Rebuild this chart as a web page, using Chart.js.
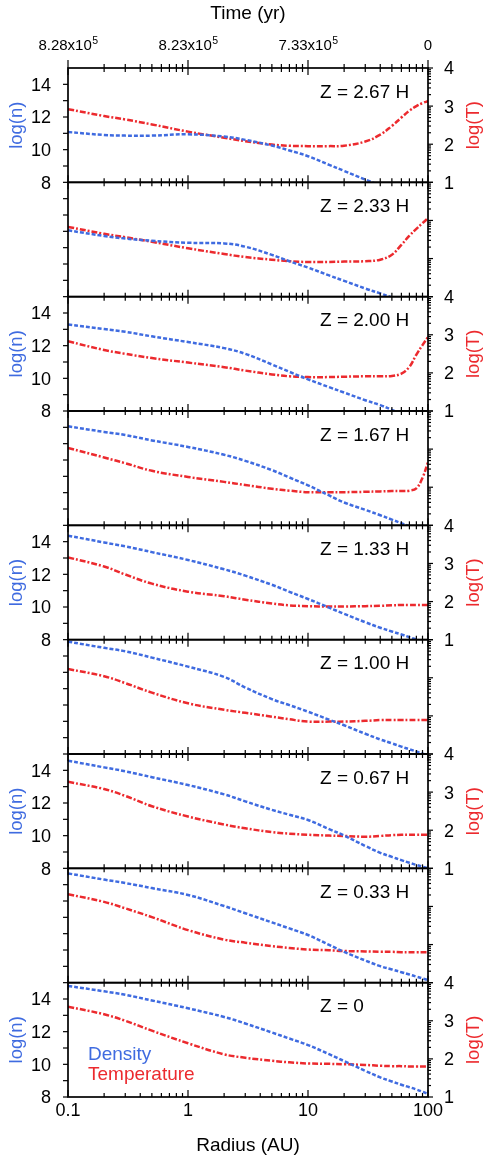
<!DOCTYPE html>
<html>
<head>
<meta charset="utf-8">
<script src="https://cdn.jsdelivr.net/npm/chart.js@4.4.1/dist/chart.umd.min.js"></script>
<style>
  html, body { margin: 0; padding: 0; background: #ffffff; }
  #wrap { position: relative; width: 491px; height: 1162px; overflow: hidden; }
  #wrap canvas { position: absolute; left: 0; top: 0; }
</style>
</head>
<body>
<div id="wrap"></div>
<script>
// ---------------- DATA ----------------
const radius = [0.1, 0.2, 0.3, 0.5, 1, 2, 3, 5, 7, 10, 15, 20, 30, 40, 50, 60, 70, 80, 90, 100];

const zLabels = ['Z = 2.67 H', 'Z = 2.33 H', 'Z = 2.00 H', 'Z = 1.67 H', 'Z = 1.33 H',
                 'Z = 1.00 H', 'Z = 0.67 H', 'Z = 0.33 H', 'Z = 0'];

// log(n) density
const densityZ267 = [11.08, 10.9, 10.86, 10.86, 10.94, 10.8, 10.6, 10.25, 9.95, 9.6, 9.07, 8.7, 8.17, 7.8, 7.5, 7.27, 7.07, 6.9, 6.75, 6.6];
const densityZ233 = [12.06, 11.72, 11.56, 11.42, 11.3, 11.26, 11.06, 10.56, 10.17, 9.78, 9.3, 8.97, 8.5, 8.2, 7.95, 7.72, 7.54, 7.38, 7.25, 7.12];
const densityZ200 = [13.29, 13.02, 12.85, 12.57, 12.22, 11.85, 11.5, 10.85, 10.4, 9.94, 9.46, 9.13, 8.66, 8.36, 8.07, 7.85, 7.66, 7.5, 7.35, 7.22];
const densityZ167 = [14.06, 13.72, 13.53, 13.2, 12.8, 12.32, 11.95, 11.38, 10.93, 10.45, 9.83, 9.4, 8.95, 8.62, 8.35, 8.13, 7.94, 7.78, 7.64, 7.52];
const densityZ133 = [14.37, 13.95, 13.71, 13.36, 12.88, 12.31, 11.92, 11.36, 10.93, 10.49, 9.96, 9.58, 9.07, 8.73, 8.5, 8.32, 8.15, 8.01, 7.9, 7.78];
const densityZ100 = [14.88, 14.5, 14.29, 13.9, 13.35, 12.72, 12.07, 11.36, 10.99, 10.59, 10.1, 9.76, 9.24, 8.89, 8.65, 8.45, 8.29, 8.15, 8.02, 7.91];
const densityZ067 = [14.59, 14.18, 13.94, 13.58, 13.1, 12.53, 12.1, 11.58, 11.28, 10.96, 10.4, 10.01, 9.37, 8.95, 8.7, 8.5, 8.34, 8.21, 8.1, 8.0];
const densityZ033 = [14.69, 14.31, 14.1, 13.79, 13.37, 12.69, 12.25, 11.69, 11.32, 10.92, 10.31, 9.88, 9.36, 9.01, 8.81, 8.64, 8.5, 8.37, 8.26, 8.16];
const densityZ000 = [14.8, 14.47, 14.26, 13.91, 13.43, 12.9, 12.5, 11.95, 11.58, 11.18, 10.62, 10.2, 9.6, 9.2, 8.95, 8.75, 8.6, 8.46, 8.32, 8.18];

// log(T) temperature
const temperatureZ267 = [2.92, 2.74, 2.65, 2.52, 2.33, 2.17, 2.08, 1.99, 1.96, 1.95, 1.95, 1.96, 2.07, 2.25, 2.48, 2.7, 2.88, 3.0, 3.08, 3.13];
const temperatureZ233 = [2.83, 2.65, 2.56, 2.44, 2.27, 2.12, 2.04, 1.97, 1.93, 1.91, 1.91, 1.92, 1.93, 1.97, 2.1, 2.36, 2.6, 2.78, 2.93, 3.06];
const temperatureZ200 = [2.83, 2.6, 2.5, 2.39, 2.27, 2.15, 2.06, 1.96, 1.91, 1.89, 1.89, 1.9, 1.91, 1.91, 1.92, 1.98, 2.16, 2.48, 2.73, 2.94];
const temperatureZ167 = [3.03, 2.78, 2.63, 2.43, 2.27, 2.14, 2.06, 1.96, 1.91, 1.87, 1.87, 1.87, 1.88, 1.89, 1.9, 1.9, 1.91, 1.97, 2.25, 2.66];
const temperatureZ133 = [3.16, 2.92, 2.71, 2.47, 2.26, 2.14, 2.05, 1.95, 1.9, 1.88, 1.87, 1.87, 1.88, 1.89, 1.9, 1.91, 1.91, 1.91, 1.91, 1.91];
const temperatureZ100 = [3.23, 3.04, 2.86, 2.61, 2.33, 2.16, 2.08, 1.98, 1.91, 1.85, 1.85, 1.85, 1.87, 1.89, 1.89, 1.89, 1.89, 1.89, 1.89, 1.89];
const temperatureZ067 = [3.27, 3.08, 2.9, 2.63, 2.36, 2.15, 2.05, 1.95, 1.91, 1.88, 1.86, 1.85, 1.83, 1.85, 1.87, 1.88, 1.88, 1.88, 1.88, 1.88];
const temperatureZ033 = [3.32, 3.12, 2.95, 2.72, 2.38, 2.13, 2.05, 1.96, 1.91, 1.87, 1.85, 1.83, 1.82, 1.81, 1.81, 1.8, 1.8, 1.8, 1.8, 1.8];
const temperatureZ000 = [3.37, 3.17, 3.0, 2.74, 2.41, 2.12, 2.03, 1.95, 1.91, 1.88, 1.87, 1.86, 1.84, 1.82, 1.81, 1.81, 1.8, 1.8, 1.8, 1.8];

const densitySeries = [densityZ267, densityZ233, densityZ200, densityZ167, densityZ133,
                       densityZ100, densityZ067, densityZ033, densityZ000];
const temperatureSeries = [temperatureZ267, temperatureZ233, temperatureZ200, temperatureZ167, temperatureZ133,
                           temperatureZ100, temperatureZ067, temperatureZ033, temperatureZ000];

// axis ticks / labels
const densityRange = [8, 15];
const densityTickLabels = [8, 10, 12, 14];
const temperatureRange = [1, 4];
const temperatureTickLabels = [1, 2, 3, 4];
const radiusRange = [0.1, 100];
const radiusTicks = [0.1, 1, 10, 100];
const radiusTickLabels = ['0.1', '1', '10', '100'];
const timeTickLabels = ['8.28x10', '8.23x10', '7.33x10', '0'];
const timeTickExponents = ['5', '5', '5', ''];
const legendLabels = ['Density', 'Temperature'];

// ---------------- STYLE / LAYOUT ----------------
const BLUE = '#3f6be0';
const RED = '#ec2a2e';
const FONT = '"Liberation Sans", Arial, Helvetica, sans-serif';
const W = 491, H = 1162;
const PLOT_LEFT = 68, PLOT_RIGHT = 428, PLOT_TOP = 68, PLOT_BOTTOM = 1097;
const NPANEL = zLabels.length;
const PANEL_H = (PLOT_BOTTOM - PLOT_TOP) / NPANEL;

function text(ctx, s, x, y, size, color, align, rot) {
  ctx.save();
  ctx.font = size + 'px ' + FONT;
  ctx.fillStyle = color;
  ctx.textAlign = align || 'left';
  ctx.textBaseline = 'alphabetic';
  if (rot) {
    ctx.translate(x, y);
    ctx.rotate(rot);
    ctx.fillText(s, 0, 0);
  } else {
    ctx.fillText(s, x, y);
  }
  ctx.restore();
}

function line(ctx, x1, y1, x2, y2) {
  ctx.beginPath();
  ctx.moveTo(x1, y1);
  ctx.lineTo(x2, y2);
  ctx.stroke();
}

const panelPlugin = {
  id: 'panelFrame',
  afterDatasetsDraw(chart, args, opts) {
    const i = opts.index;
    const ctx = chart.ctx;
    const a = chart.chartArea;
    const xs = chart.scales.x, yn = chart.scales.yN, yt = chart.scales.yT;
    const labelled = (i % 2 === 0);
    const TICK_SIZE = 18;

    ctx.save();
    ctx.strokeStyle = '#000';
    ctx.lineCap = 'butt';

    // x ticks (log minor) on top and bottom edges, inward
    ctx.lineWidth = 1.2;
    for (let d = -1; d <= 2; d++) {
      for (let k = 1; k <= 9; k++) {
        const v = k * Math.pow(10, d);
        if (v < radiusRange[0] - 1e-9 || v > radiusRange[1] + 1e-9) continue;
        const px = xs.getPixelForValue(v);
        const major = (k === 1);
        const len = major ? 7 : 4;
        line(ctx, px, a.bottom, px, a.bottom - len);
        line(ctx, px, a.top, px, a.top + len);
        if (i === 0) {
          line(ctx, px, a.top, px, a.top - (major ? 8 : 4));
        }
      }
    }
    // left ticks, outward
    for (let v = densityRange[0]; v < densityRange[1]; v++) {
      const py = yn.getPixelForValue(v);
      line(ctx, a.left, py, a.left - 5, py);
    }
    // right ticks, outward, log minor
    for (let n = temperatureRange[0]; n <= temperatureRange[1]; n++) {
      for (let k = 1; k <= 9; k++) {
        const v = n + Math.log10(k);
        if (v > temperatureRange[1] + 1e-9) continue;
        const py = yt.getPixelForValue(v);
        line(ctx, a.right, py, a.right + (k === 1 ? 5 : 3), py);
      }
    }
    // frame
    ctx.lineWidth = 1.7;
    ctx.strokeRect(a.left, a.top, a.right - a.left, a.bottom - a.top);
    ctx.restore();

    // Z label
    text(ctx, zLabels[i], 320, a.top + 29.5, 19, '#000', 'left');

    if (labelled) {
      densityTickLabels.forEach(v => {
        const py = yn.getPixelForValue(v);
        text(ctx, String(v), 51, py + 0.36 * TICK_SIZE, TICK_SIZE, '#000', 'right');
      });
      temperatureTickLabels.forEach(v => {
        const py = yt.getPixelForValue(v);
        text(ctx, String(v), 444, py + 0.36 * TICK_SIZE, TICK_SIZE, '#000', 'left');
      });
      const cy = (a.top + a.bottom) / 2;
      text(ctx, 'log(n)', 22, cy, 18.5, BLUE, 'center', -Math.PI / 2);
      text(ctx, 'log(T)', 479, cy, 18.5, RED, 'center', -Math.PI / 2);
    }

    if (i === 0) {
      // top time axis
      text(ctx, 'Time (yr)', (a.left + a.right) / 2, 19, 19, '#000', 'center');
      radiusTicks.forEach((v, k) => {
        const px = xs.getPixelForValue(v);
        const base = timeTickLabels[k], exp = timeTickExponents[k];
        ctx.save();
        ctx.font = '15px ' + FONT;
        const wb = ctx.measureText(base).width;
        ctx.font = '10.5px ' + FONT;
        const we = exp ? ctx.measureText(exp).width : 0;
        ctx.restore();
        const x0 = px - (wb + we) / 2;
        text(ctx, base, x0, 50, 15, '#000', 'left');
        if (exp) text(ctx, exp, x0 + wb + 0.5, 44, 10.5, '#000', 'left');
      });
    }

    if (i === NPANEL - 1) {
      radiusTicks.forEach((v, k) => {
        const px = xs.getPixelForValue(v);
        text(ctx, radiusTickLabels[k], px, a.bottom + 18.5, TICK_SIZE, '#000', 'center');
      });
      text(ctx, 'Radius (AU)', (a.left + a.right) / 2, a.bottom + 54, 19, '#000', 'center');
      text(ctx, legendLabels[0], 88, a.top + 77, 19, BLUE, 'left');
      text(ctx, legendLabels[1], 88, a.top + 97, 19, RED, 'left');
    }
  }
};

const wrap = document.getElementById('wrap');
for (let i = 0; i < NPANEL; i++) {
  const cv = document.createElement('canvas');
  cv.width = W; cv.height = H;
  cv.style.width = W + 'px'; cv.style.height = H + 'px';
  wrap.appendChild(cv);
  const top = PLOT_TOP + i * PANEL_H;
  const bottom = top + PANEL_H;
  new Chart(cv, {
    type: 'line',
    data: {
      datasets: [
        {
          label: legendLabels[0],
          data: radius.map((r, k) => ({ x: r, y: densitySeries[i][k] })),
          yAxisID: 'yN',
          borderColor: BLUE,
          borderWidth: 2.5,
          borderDash: [4, 2],
          pointRadius: 0,
          tension: 0.4,
          fill: false,
          clip: 0
        },
        {
          label: legendLabels[1],
          data: radius.map((r, k) => ({ x: r, y: temperatureSeries[i][k] })),
          yAxisID: 'yT',
          borderColor: RED,
          borderWidth: 2.5,
          borderDash: [6, 2, 2, 2],
          pointRadius: 0,
          tension: 0.4,
          fill: false,
          clip: 0
        }
      ]
    },
    options: {
      responsive: false,
      animation: false,
      events: [],
      devicePixelRatio: 1,
      layout: { padding: { left: PLOT_LEFT, right: W - PLOT_RIGHT, top: top, bottom: H - bottom } },
      plugins: {
        legend: { display: false },
        tooltip: { enabled: false },
        title: { display: false },
        panelFrame: { index: i }
      },
      scales: {
        x: { type: 'logarithmic', min: radiusRange[0], max: radiusRange[1], display: false },
        yN: { type: 'linear', position: 'left', min: densityRange[0], max: densityRange[1], display: false },
        yT: { type: 'linear', position: 'right', min: temperatureRange[0], max: temperatureRange[1], display: false }
      }
    },
    plugins: [panelPlugin]
  });
}
</script>
</body>
</html>
